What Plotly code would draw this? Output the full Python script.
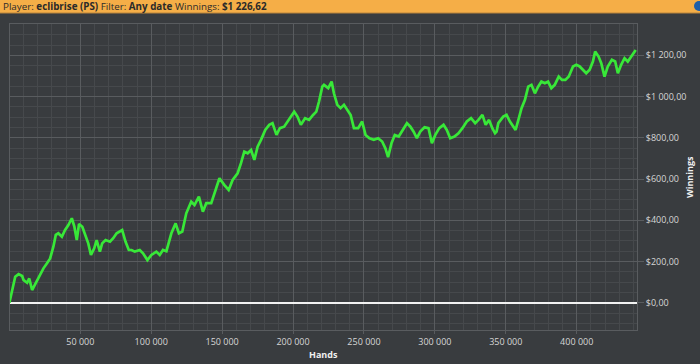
import plotly.graph_objects as go

# Data
hands = [0, 4100, 6500, 9000, 10000, 12500, 14000, 16000, 17000, 19500, 21700, 24000, 26400, 28700,
         31000, 32700, 34500, 37000, 39250, 41600, 44000, 45800, 47500, 49100, 51400, 53300, 55600,
         57500, 59800, 61500, 63800, 65400, 67800, 70900, 73200, 75600, 77900, 79500, 81900, 84200,
         86100, 88400, 91900, 94200, 97300, 100100, 103600, 106000, 108300, 110700, 114200, 117200,
         119500, 121900, 124700, 128200, 130500, 133600, 136400, 138800, 142300, 144600, 148100,
         151600, 154600, 157400, 160900, 163300, 165600, 168000, 170400, 172700, 175000, 177400,
         180400, 183200, 185500, 188300, 190700, 193700, 196100, 198400, 200800, 203100, 205500,
         208500, 211300, 214100, 216400, 218300, 220600, 221800, 224800, 227200, 228800, 231200,
         233500, 235900, 238200, 240600, 242900, 245900, 248700, 251100, 253900, 256900, 260000,
         262800, 265100, 267000, 269400, 271700, 274500, 277300, 280300, 282700, 285000, 287300,
         289700, 292700, 295500, 297900, 300300, 303100, 306100, 308400, 310800, 313800, 316600,
         319400, 322500, 325500, 328400, 330700, 333500, 335800, 338200, 340500, 342400, 343500,
         344700, 348200, 350500, 352900, 355200, 356900, 359200, 361100, 363500, 365800, 368100,
         370500, 372800, 375100, 377500, 379800, 382100, 384500, 387300, 389600, 392000, 394400,
         397400, 399700, 402100, 404400, 406700, 409100, 411400, 413000, 415400, 417300, 419600,
         421900, 424800, 427100, 429000, 431300, 433700, 436000, 438300, 441600]
winnings = [0, 126, 139, 130, 110, 97, 118, 62, 75, 110, 134, 167, 191, 215,
            272, 329, 337, 320, 353, 377, 410, 369, 304, 382, 369, 329, 288,
            232, 264, 304, 248, 288, 304, 296, 313, 337, 345, 353, 296, 256,
            256, 248, 256, 240, 207, 232, 248, 232, 256, 250, 337, 385,
            337, 345, 434, 490, 474, 515, 442, 483, 483, 531, 604,
            571, 547, 596, 628, 677, 733, 725, 741, 693, 757, 790,
            838, 863, 871, 814, 847, 854, 879, 903, 927, 903, 863,
            895, 887, 911, 927, 976, 1048, 1057, 1041, 1073, 1016, 960,
            944, 960, 935, 911, 847, 847, 879, 814, 798, 790, 798,
            782, 749, 706, 774, 814, 806, 838, 871, 854, 830, 798,
            830, 851, 847, 774, 814, 847, 863, 838, 798, 806, 822,
            847, 879, 895, 871, 887, 911, 863, 887, 847, 822, 830,
            871, 903, 911, 879, 854, 838, 895, 944, 984, 1048, 1057,
            1016, 1048, 1073, 1065, 1073, 1041, 1057, 1097, 1081, 1081, 1097,
            1146, 1154, 1146, 1130, 1113, 1130, 1170, 1218, 1194, 1162, 1097,
            1146, 1178, 1170, 1113, 1154, 1186, 1170, 1194, 1226]

x_tickvals = [50000, 100000, 150000, 200000, 250000, 300000, 350000, 400000]
x_ticktext = ["50 000", "100 000", "150 000", "200 000", "250 000", "300 000", "350 000", "400 000"]
y_tickvals = [0, 200, 400, 600, 800, 1000, 1200]
y_ticktext = ["$0,00", "$200,00", "$400,00", "$600,00", "$800,00", "$1 000,00", "$1 200,00"]

title_text = ("Player: <b>eclibrise (PS)</b> Filter: <b>Any date</b> "
              "Winnings: <b>$1 226,62</b>")

W, H = 700, 364
L, R, T, B = 10, 63, 24, 34
pw, ph = W - L - R, H - T - B


def px_x(p):
    return (p - L) / pw


def px_y(p):
    return (H - B - p) / ph


BG = "#393c3f"
GRID_MAJ = "#595c5f"
GRID_MIN = "#46494c"
TXT = "#d6d6d6"
FONT = "Open Sans"

fig = go.Figure()
fig.add_trace(go.Scatter(x=hands, y=winnings, mode="lines",
                         line=dict(color="#38e838", width=2.7),
                         hoverinfo="skip", showlegend=False))

fig.update_layout(
    width=W, height=H, autosize=False,
    margin=dict(l=L, r=R, t=T, b=B),
    paper_bgcolor=BG, plot_bgcolor=BG,
    font=dict(family=FONT, size=9, color=TXT),
    xaxis=dict(range=[420, 442500], tickmode="array", tickvals=x_tickvals, ticktext=x_ticktext,
               showgrid=True, gridcolor=GRID_MAJ, gridwidth=1,
               minor=dict(dtick=10000, tick0=0, showgrid=True, gridcolor=GRID_MIN, gridwidth=1),
               ticks="outside", ticklen=3, tickcolor=GRID_MAJ,
               showline=True, linecolor=GRID_MAJ, linewidth=1, mirror=True,
               zeroline=False, tickfont=dict(size=9, color=TXT, family=FONT)),
    yaxis=dict(range=[-132, 1352], side="right", tickmode="array", tickvals=y_tickvals,
               ticktext=y_ticktext, showgrid=True, gridcolor=GRID_MAJ, gridwidth=1,
               minor=dict(dtick=50, tick0=0, showgrid=True, gridcolor=GRID_MIN, gridwidth=1),
               ticks="outside", ticklen=6, tickcolor=GRID_MAJ,
               showline=True, linecolor=GRID_MAJ, linewidth=1, mirror=True,
               zeroline=True, zerolinecolor="#f2f2f2", zerolinewidth=2.2,
               tickfont=dict(size=9, color=TXT, family=FONT)),
)

# header bar
fig.add_shape(type="rect", xref="paper", yref="paper",
              x0=px_x(0), x1=px_x(W), y0=px_y(13), y1=px_y(0),
              fillcolor="#f5ae47", line=dict(width=0), layer="above")
fig.add_shape(type="line", xref="paper", yref="paper",
              x0=px_x(0), x1=px_x(W), y0=px_y(13), y1=px_y(13),
              line=dict(color="#b9843c", width=1), layer="above")
fig.add_shape(type="circle", xref="paper", yref="paper",
              x0=px_x(694), x1=px_x(704), y0=px_y(11), y1=px_y(1),
              fillcolor="#1f5fa8", line=dict(width=0), layer="above")

fig.add_annotation(text=title_text, xref="paper", yref="paper",
                   x=px_x(1), y=px_y(6.5), xanchor="left", yanchor="middle",
                   showarrow=False, font=dict(family=FONT, size=9.8, color="#2a2a2a"))
fig.add_annotation(text="<b>Hands</b>", xref="paper", yref="paper",
                   x=px_x(323), y=px_y(354), xanchor="center", yanchor="middle",
                   showarrow=False, font=dict(family=FONT, size=9, color="#f0f0f0"))
fig.add_annotation(text="<b>Winnings</b>", xref="paper", yref="paper",
                   x=px_x(689), y=px_y(177), xanchor="center", yanchor="middle",
                   textangle=-90, showarrow=False,
                   font=dict(family=FONT, size=9, color="#f0f0f0"))

fig.write_html("out.html")
